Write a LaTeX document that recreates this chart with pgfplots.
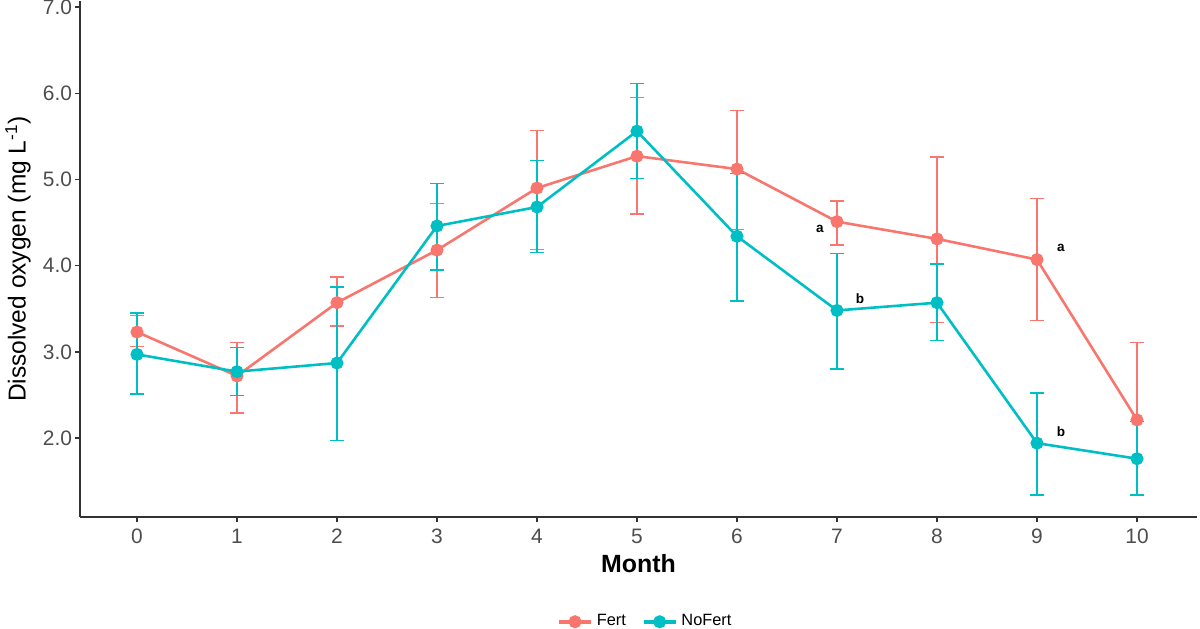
\documentclass[border=0pt]{standalone}
\usepackage{fontspec}
\setmainfont{Liberation Sans}
\usepackage{pgfplots}
\usepackage{pgfplotstable}
\pgfplotsset{compat=1.18}
\definecolor{fert}{HTML}{F8766D}
\definecolor{nofert}{HTML}{00BFC4}
\definecolor{tickgray}{HTML}{4D4D4D}

% month, mean, lower and upper end of the error bar
\pgfplotstableread{
x y lo hi
0 3.23 3.06 3.42
1 2.72 2.29 3.11
2 3.57 3.30 3.87
3 4.18 3.63 4.72
4 4.90 4.19 5.57
5 5.27 4.60 5.95
6 5.12 4.42 5.80
7 4.51 4.24 4.75
8 4.31 3.34 5.26
9 4.07 3.36 4.78
10 2.21 1.33 3.11
}\fert
\pgfplotstableread{
x y lo hi
0 2.97 2.51 3.45
1 2.77 2.49 3.05
2 2.87 1.97 3.75
3 4.46 3.95 4.95
4 4.68 4.15 5.22
5 5.56 5.01 6.11
6 4.34 3.59 5.07
7 3.48 2.80 4.14
8 3.57 3.13 4.02
9 1.94 1.34 2.52
10 1.76 1.34 2.19
}\nofert

\pgfplotsset{
  dostyle/.style={
    line width=1.3pt, mark=*, mark size=2.6bp, mark options={solid},
    error bars/.cd, y dir=both, y explicit,
    error bar style={line width=0.7pt},
    error mark options={rotate=90, mark size=3.3bp, line width=0.7pt},
  },
}

\begin{document}
\begin{tikzpicture}
\path[use as bounding box] (-40bp,-56bp) rectangle (560bp,258.5bp);
\begin{axis}[
  at={(0,0)}, anchor=south west,
  scale only axis,
  width=558.5bp, height=258bp,
  xmin=-0.57, xmax=10.6,
  ymin=1.0835, ymax=7.07,
  axis lines*=left,
  axis line style={-, line width=0.8pt, black!80},
  tick align=outside,
  major tick length=2.5bp,
  tick style={line width=0.7pt, black!80},
  xtick={0,...,10},
  xticklabels={0,1,2,3,4,5,6,7,8,9,10},
  ytick={2,3,4,5,6,7},
  yticklabels={2.0,3.0,4.0,5.0,6.0,7.0},
  tick label style={font=\fontsize{10.5}{12}\selectfont, text=tickgray},
  yticklabel style={xshift=2bp},
  xlabel={\textbf{Month}},
  xlabel style={font=\fontsize{12.5}{14}\selectfont, at={(axis description cs:0.5,-0.0898)}, anchor=center},
  ylabel={Dissolved oxygen (mg L\textsuperscript{-1})},
  ylabel style={font=\fontsize{12.3}{14}\selectfont, at={(axis description cs:-0.0555,0.5)}, anchor=center},
  legend style={draw=none, fill=none, legend columns=2, font=\fontsize{8.2}{9}\selectfont,
    at={(0.507,-0.203)}, anchor=center,
    /tikz/every even column/.append style={column sep=6bp}},
  legend image code/.code={
    \draw[line width=1.8pt] (0bp,0bp) -- (16bp,0bp);
    \draw[mark repeat=2, mark phase=2] plot coordinates {(0bp,0bp) (8bp,0bp) (16bp,0bp)};
  },
]
\addplot[fert, dostyle] table[x=x, y=y,
  y error plus expr=\thisrow{hi}-\thisrow{y},
  y error minus expr=\thisrow{y}-\thisrow{lo}] {\fert};
\addlegendentry{Fert}
\addplot[nofert, dostyle] table[x=x, y=y,
  y error plus expr=\thisrow{hi}-\thisrow{y},
  y error minus expr=\thisrow{y}-\thisrow{lo}] {\nofert};
\addlegendentry{NoFert}
\node[font=\bfseries\fontsize{6.8}{7}\selectfont] at (axis cs:6.83,4.42) {a};
\node[font=\bfseries\fontsize{6.8}{7}\selectfont] at (axis cs:7.23,3.62) {b};
\node[font=\bfseries\fontsize{6.8}{7}\selectfont] at (axis cs:9.24,4.21) {a};
\node[font=\bfseries\fontsize{6.8}{7}\selectfont] at (axis cs:9.24,2.07) {b};
\end{axis}
\end{tikzpicture}
\end{document}
